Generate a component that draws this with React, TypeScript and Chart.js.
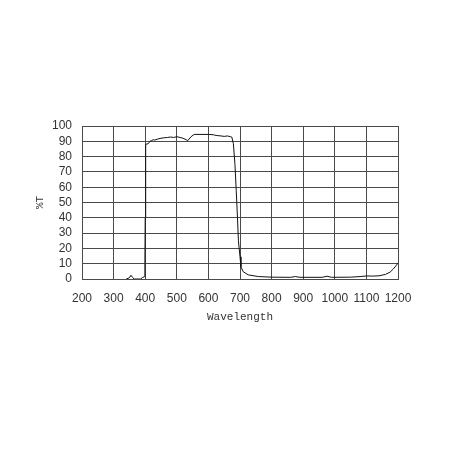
import React, { useEffect, useRef } from 'react';
import { Chart, registerables } from 'chart.js';

Chart.register(...registerables);

// transmittance curve (nm, %T)
const wavelengths = [
  340, 350, 355, 360, 365, 385, 392, 397, 399, 400, 401, 402, 410, 415, 420, 425, 430, 440, 450,
  460, 470, 480, 490, 500, 510, 520, 530, 535, 545, 555, 600, 615, 620, 630, 640, 650, 660, 670,
  674, 679, 684, 688, 692, 695, 700, 703, 710, 726, 758, 800, 860, 875, 890, 960, 975, 990, 1050,
  1080, 1100, 1120, 1140, 1160, 1175, 1185, 1195, 1200,
];
const transmittance = [
  0, 0.8, 2.5, 1, 0, 0, 1, 1.5, 10, 40, 75, 88, 88.5, 90, 90.5, 91, 90.8, 91.5, 92,
  92.3, 92.5, 92.8, 92.5, 93, 92.5, 92, 91, 90.5, 93, 94.5, 94.5, 94.3, 94, 93.7, 93.5, 93.2, 93.5, 93,
  92.8, 88.5, 75, 58, 40, 25, 14.5, 8, 4.8, 2.7, 1.6, 1.2, 1.1, 1.6, 1.1, 1.1, 1.8, 1.1, 1.2,
  1.6, 2, 1.9, 2.1, 3, 4.5, 6.5, 9, 10.5,
];

const xMin = 200;
const xMax = 1200;
const xStep = 100;
const yMin = 0;
const yMax = 100;
const yStep = 10;

const gridColor = '#4a4a4a';
const textColor = '#333';

const App: React.FC = () => {
  const canvasRef = useRef<HTMLCanvasElement>(null);
  const chartRef = useRef<Chart | null>(null);

  useEffect(() => {
    if (chartRef.current) {
      chartRef.current.destroy();
    }
    if (!canvasRef.current) return;
    const ctx = canvasRef.current.getContext('2d');
    if (!ctx) return;

    const points = wavelengths.map((w, i) => ({ x: w, y: transmittance[i] }));
    const tickFont = { family: '"Liberation Sans", Arial, sans-serif', size: 12 };
    const titleFont = { family: '"Liberation Mono", "Courier New", monospace', size: 11 };

    chartRef.current = new Chart(ctx, {
      type: 'line',
      data: {
        datasets: [
          {
            data: points,
            borderColor: '#111',
            borderWidth: 1,
            pointRadius: 0,
            tension: 0,
            fill: false,
          },
        ],
      },
      options: {
        responsive: false,
        animation: false,
        devicePixelRatio: 1,
        layout: { padding: { left: 30, top: 126, right: 54, bottom: 123 } },
        plugins: {
          legend: { display: false },
          tooltip: { enabled: false },
        },
        scales: {
          x: {
            type: 'linear',
            min: xMin,
            max: xMax,
            afterFit: (scale: any) => {
              scale.height = 50;
            },
            ticks: {
              stepSize: xStep,
              autoSkip: false,
              maxRotation: 0,
              padding: 12,
              color: textColor,
              font: tickFont,
              callback: (v: any) => String(v),
            },
            grid: { color: gridColor, lineWidth: 1, drawTicks: false },
            border: { color: gridColor },
            title: {
              display: true,
              text: 'Wavelength',
              color: textColor,
              font: titleFont,
              padding: { top: 0, bottom: 5 },
            },
          },
          y: {
            type: 'linear',
            min: yMin,
            max: yMax,
            afterFit: (scale: any) => {
              scale.width = 52;
            },
            ticks: {
              stepSize: yStep,
              autoSkip: false,
              padding: 10,
              color: textColor,
              font: tickFont,
              callback: (v: any) => String(v),
            },
            grid: { color: gridColor, lineWidth: 1, drawTicks: false },
            border: { color: gridColor },
            title: {
              display: true,
              text: '%T',
              color: textColor,
              font: titleFont,
              padding: { top: 3, bottom: 0 },
            },
          },
        },
      },
    });

    return () => {
      if (chartRef.current) {
        chartRef.current.destroy();
        chartRef.current = null;
      }
    };
  }, []);

  return (
    <div style={{ position: 'fixed', left: 0, top: 0, width: 452, height: 452, background: '#fff' }}>
      <canvas ref={canvasRef} width={452} height={452}></canvas>
    </div>
  );
};

export default App;
